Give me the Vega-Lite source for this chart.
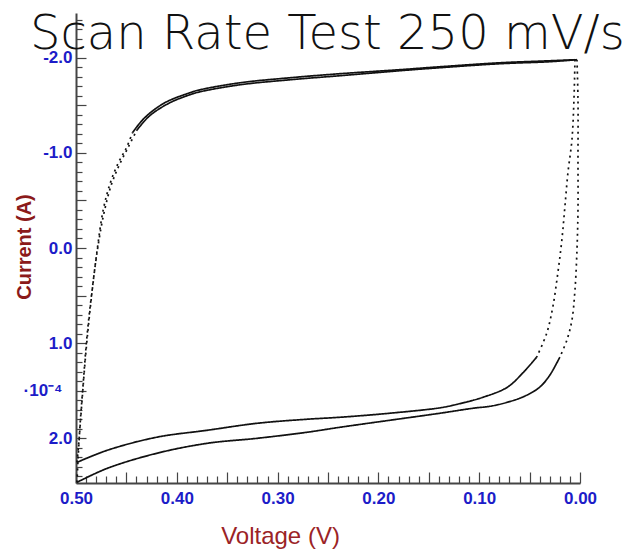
{
  "$schema": "https://vega.github.io/schema/vega-lite/v6.json",
  "width": 504,
  "height": 470,
  "autosize": {"type": "none"},
  "padding": {"left": 76, "top": 13, "right": 47, "bottom": 67},
  "background": "white",
  "title": {
    "text": "Scan Rate Test 250 mV/s",
    "font": "DejaVu Sans",
    "fontWeight": 200,
    "fontSize": 48,
    "color": "#111111",
    "anchor": "start",
    "frame": "group",
    "baseline": "alphabetic",
    "offset": 0,
    "dx": -46,
    "dy": 86
  },
  "config": {"view": {"stroke": null}},
  "data": {
    "values": [
      {"path": "U_ls", "style": "dotted", "i": 0, "voltage": 0.499, "current": 2.253},
      {"path": "U_ls", "style": "dotted", "i": 1, "voltage": 0.497, "current": 2.021},
      {"path": "U_ls", "style": "dotted", "i": 2, "voltage": 0.494, "current": 1.6},
      {"path": "U_ls", "style": "dotted", "i": 3, "voltage": 0.49, "current": 1.074},
      {"path": "U_ls", "style": "dotted", "i": 4, "voltage": 0.485, "current": 0.547},
      {"path": "U_ls", "style": "dotted", "i": 5, "voltage": 0.479, "current": 0.021},
      {"path": "U_ls", "style": "dotted", "i": 6, "voltage": 0.473, "current": -0.4},
      {"path": "U_ls", "style": "dotted", "i": 7, "voltage": 0.466, "current": -0.684},
      {"path": "U_ls", "style": "dotted", "i": 8, "voltage": 0.458, "current": -0.895},
      {"path": "U_ls", "style": "dotted", "i": 9, "voltage": 0.45, "current": -1.053},
      {"path": "U_ls", "style": "dotted", "i": 10, "voltage": 0.444, "current": -1.211},

      {"path": "U_top", "style": "solid", "i": 0, "voltage": 0.444, "current": -1.211},
      {"path": "U_top", "style": "solid", "i": 1, "voltage": 0.432, "current": -1.368},
      {"path": "U_top", "style": "solid", "i": 2, "voltage": 0.412, "current": -1.526},
      {"path": "U_top", "style": "solid", "i": 3, "voltage": 0.387, "current": -1.632},
      {"path": "U_top", "style": "solid", "i": 4, "voltage": 0.377, "current": -1.663},
      {"path": "U_top", "style": "solid", "i": 5, "voltage": 0.337, "current": -1.737},
      {"path": "U_top", "style": "solid", "i": 6, "voltage": 0.288, "current": -1.789},
      {"path": "U_top", "style": "solid", "i": 7, "voltage": 0.238, "current": -1.832},
      {"path": "U_top", "style": "solid", "i": 8, "voltage": 0.179, "current": -1.874},
      {"path": "U_top", "style": "solid", "i": 9, "voltage": 0.139, "current": -1.905},
      {"path": "U_top", "style": "solid", "i": 10, "voltage": 0.079, "current": -1.947},
      {"path": "U_top", "style": "solid", "i": 11, "voltage": 0.03, "current": -1.968},
      {"path": "U_top", "style": "solid", "i": 12, "voltage": 0.005, "current": -1.979},

      {"path": "U_rs", "style": "dotted", "i": 0, "voltage": 0.005, "current": -1.979},
      {"path": "U_rs", "style": "dotted", "i": 1, "voltage": 0.006, "current": -1.558},
      {"path": "U_rs", "style": "dotted", "i": 2, "voltage": 0.008, "current": -1.137},
      {"path": "U_rs", "style": "dotted", "i": 3, "voltage": 0.012, "current": -0.789},
      {"path": "U_rs", "style": "dotted", "i": 4, "voltage": 0.015, "current": -0.432},
      {"path": "U_rs", "style": "dotted", "i": 5, "voltage": 0.018, "current": -0.084},
      {"path": "U_rs", "style": "dotted", "i": 6, "voltage": 0.022, "current": 0.263},
      {"path": "U_rs", "style": "dotted", "i": 7, "voltage": 0.027, "current": 0.621},
      {"path": "U_rs", "style": "dotted", "i": 8, "voltage": 0.033, "current": 0.895},
      {"path": "U_rs", "style": "dotted", "i": 9, "voltage": 0.043, "current": 1.147},

      {"path": "U_bot", "style": "solid", "i": 0, "voltage": 0.043, "current": 1.147},
      {"path": "U_bot", "style": "solid", "i": 1, "voltage": 0.057, "current": 1.316},
      {"path": "U_bot", "style": "solid", "i": 2, "voltage": 0.072, "current": 1.463},
      {"path": "U_bot", "style": "solid", "i": 3, "voltage": 0.096, "current": 1.568},
      {"path": "U_bot", "style": "solid", "i": 4, "voltage": 0.122, "current": 1.643},
      {"path": "U_bot", "style": "solid", "i": 5, "voltage": 0.139, "current": 1.68},
      {"path": "U_bot", "style": "solid", "i": 6, "voltage": 0.189, "current": 1.737},
      {"path": "U_bot", "style": "solid", "i": 7, "voltage": 0.238, "current": 1.779},
      {"path": "U_bot", "style": "solid", "i": 8, "voltage": 0.271, "current": 1.8},
      {"path": "U_bot", "style": "solid", "i": 9, "voltage": 0.32, "current": 1.842},
      {"path": "U_bot", "style": "solid", "i": 10, "voltage": 0.37, "current": 1.916},
      {"path": "U_bot", "style": "solid", "i": 11, "voltage": 0.42, "current": 1.989},
      {"path": "U_bot", "style": "solid", "i": 12, "voltage": 0.469, "current": 2.126},
      {"path": "U_bot", "style": "solid", "i": 13, "voltage": 0.499, "current": 2.253},

      {"path": "L_ls", "style": "dotted", "i": 0, "voltage": 0.499, "current": 2.463},
      {"path": "L_ls", "style": "dotted", "i": 1, "voltage": 0.498, "current": 2.232},
      {"path": "L_ls", "style": "dotted", "i": 2, "voltage": 0.496, "current": 1.863},
      {"path": "L_ls", "style": "dotted", "i": 3, "voltage": 0.493, "current": 1.442},
      {"path": "L_ls", "style": "dotted", "i": 4, "voltage": 0.489, "current": 0.916},
      {"path": "L_ls", "style": "dotted", "i": 5, "voltage": 0.484, "current": 0.442},
      {"path": "L_ls", "style": "dotted", "i": 6, "voltage": 0.478, "current": -0.032},
      {"path": "L_ls", "style": "dotted", "i": 7, "voltage": 0.472, "current": -0.379},
      {"path": "L_ls", "style": "dotted", "i": 8, "voltage": 0.465, "current": -0.663},
      {"path": "L_ls", "style": "dotted", "i": 9, "voltage": 0.457, "current": -0.874},
      {"path": "L_ls", "style": "dotted", "i": 10, "voltage": 0.448, "current": -1.063},
      {"path": "L_ls", "style": "dotted", "i": 11, "voltage": 0.44, "current": -1.232},

      {"path": "L_top", "style": "solid", "i": 0, "voltage": 0.44, "current": -1.232},
      {"path": "L_top", "style": "solid", "i": 1, "voltage": 0.427, "current": -1.389},
      {"path": "L_top", "style": "solid", "i": 2, "voltage": 0.407, "current": -1.526},
      {"path": "L_top", "style": "solid", "i": 3, "voltage": 0.387, "current": -1.611},
      {"path": "L_top", "style": "solid", "i": 4, "voltage": 0.377, "current": -1.642},
      {"path": "L_top", "style": "solid", "i": 5, "voltage": 0.337, "current": -1.716},
      {"path": "L_top", "style": "solid", "i": 6, "voltage": 0.288, "current": -1.768},
      {"path": "L_top", "style": "solid", "i": 7, "voltage": 0.238, "current": -1.811},
      {"path": "L_top", "style": "solid", "i": 8, "voltage": 0.179, "current": -1.863},
      {"path": "L_top", "style": "solid", "i": 9, "voltage": 0.139, "current": -1.895},
      {"path": "L_top", "style": "solid", "i": 10, "voltage": 0.079, "current": -1.937},
      {"path": "L_top", "style": "solid", "i": 11, "voltage": 0.03, "current": -1.958},
      {"path": "L_top", "style": "solid", "i": 12, "voltage": 0.003, "current": -1.979},

      {"path": "L_rs", "style": "dotted", "i": 0, "voltage": 0.003, "current": -1.979},
      {"path": "L_rs", "style": "dotted", "i": 1, "voltage": 0.002, "current": -1.558},
      {"path": "L_rs", "style": "dotted", "i": 2, "voltage": 0.002, "current": -0.926},
      {"path": "L_rs", "style": "dotted", "i": 3, "voltage": 0.002, "current": -0.4},
      {"path": "L_rs", "style": "dotted", "i": 4, "voltage": 0.003, "current": 0.021},
      {"path": "L_rs", "style": "dotted", "i": 5, "voltage": 0.005, "current": 0.442},
      {"path": "L_rs", "style": "dotted", "i": 6, "voltage": 0.008, "current": 0.758},
      {"path": "L_rs", "style": "dotted", "i": 7, "voltage": 0.013, "current": 0.968},
      {"path": "L_rs", "style": "dotted", "i": 8, "voltage": 0.02, "current": 1.147},

      {"path": "L_bot", "style": "solid", "i": 0, "voltage": 0.02, "current": 1.147},
      {"path": "L_bot", "style": "solid", "i": 1, "voltage": 0.03, "current": 1.337},
      {"path": "L_bot", "style": "solid", "i": 2, "voltage": 0.04, "current": 1.463},
      {"path": "L_bot", "style": "solid", "i": 3, "voltage": 0.055, "current": 1.558},
      {"path": "L_bot", "style": "solid", "i": 4, "voltage": 0.072, "current": 1.621},
      {"path": "L_bot", "style": "solid", "i": 5, "voltage": 0.089, "current": 1.663},
      {"path": "L_bot", "style": "solid", "i": 6, "voltage": 0.106, "current": 1.684},
      {"path": "L_bot", "style": "solid", "i": 7, "voltage": 0.139, "current": 1.737},
      {"path": "L_bot", "style": "solid", "i": 8, "voltage": 0.189, "current": 1.811},
      {"path": "L_bot", "style": "solid", "i": 9, "voltage": 0.238, "current": 1.884},
      {"path": "L_bot", "style": "solid", "i": 10, "voltage": 0.271, "current": 1.937},
      {"path": "L_bot", "style": "solid", "i": 11, "voltage": 0.32, "current": 2.0},
      {"path": "L_bot", "style": "solid", "i": 12, "voltage": 0.37, "current": 2.053},
      {"path": "L_bot", "style": "solid", "i": 13, "voltage": 0.42, "current": 2.158},
      {"path": "L_bot", "style": "solid", "i": 14, "voltage": 0.469, "current": 2.316},
      {"path": "L_bot", "style": "solid", "i": 15, "voltage": 0.499, "current": 2.463}
    ]
  },
  "mark": {"type": "line", "interpolate": "catmull-rom", "strokeWidth": 1.7, "color": "#111111"},
  "encoding": {
    "x": {
      "field": "voltage",
      "type": "quantitative",
      "scale": {"domain": [0, 0.5], "reverse": true, "nice": false, "zero": false},
      "axis": {
        "title": "Voltage (V)",
        "titleColor": "#9b2326",
        "titleFont": "Liberation Sans",
        "titleFontWeight": "normal",
        "titleFontSize": 24,
        "titleX": 204,
        "titleY": 53.5,
        "titleAlign": "center",
        "titleBaseline": "middle",
        "values": [0, 0.01, 0.02, 0.03, 0.04, 0.05, 0.06, 0.07, 0.08, 0.09, 0.1, 0.11, 0.12, 0.13, 0.14, 0.15, 0.16, 0.17, 0.18, 0.19, 0.2, 0.21, 0.22, 0.23, 0.24, 0.25, 0.26, 0.27, 0.28, 0.29, 0.3, 0.31, 0.32, 0.33, 0.34, 0.35, 0.36, 0.37, 0.38, 0.39, 0.4, 0.41, 0.42, 0.43, 0.44, 0.45, 0.46, 0.47, 0.48, 0.49, 0.5],
        "labelExpr": "abs(datum.value * 10 - round(datum.value * 10)) < 0.001 ? format(datum.value, '.2f') : ''",
        "labelFont": "Liberation Sans",
        "labelFontWeight": "bold",
        "labelFontSize": 17,
        "labelColor": "#1c1cc8",
        "labelPadding": 18,
        "labelFlush": false,
        "labelOverlap": false,
        "tickSize": {"condition": {"test": "abs(datum.value * 20 - round(datum.value * 20)) < 0.001", "value": -11}, "value": -7},
        "tickColor": "#444444",
        "tickWidth": 1.2,
        "domainColor": "#444444",
        "domainWidth": 2,
        "grid": false
      }
    },
    "y": {
      "field": "current",
      "type": "quantitative",
      "scale": {"domain": [-2.47, 2.47], "reverse": true, "nice": false, "zero": false},
      "axis": {
        "title": "Current (A)",
        "titleColor": "#8b1a1a",
        "titleFont": "Liberation Sans",
        "titleFontWeight": "bold",
        "titleFontSize": 20,
        "titleX": -52,
        "titleY": 233.5,
        "titleAngle": -90,
        "titleAlign": "center",
        "titleBaseline": "middle",
        "values": [-2.4, -2.3, -2.2, -2.1, -2.0, -1.9, -1.8, -1.7, -1.6, -1.5, -1.4, -1.3, -1.2, -1.1, -1.0, -0.9, -0.8, -0.7, -0.6, -0.5, -0.4, -0.3, -0.2, -0.1, 0, 0.1, 0.2, 0.3, 0.4, 0.5, 0.6, 0.7, 0.8, 0.9, 1.0, 1.1, 1.2, 1.3, 1.4, 1.5, 1.6, 1.7, 1.8, 1.9, 2.0, 2.1, 2.2, 2.3, 2.4],
        "labelExpr": "datum.value == 1.5 ? '·10⁻⁴' : (abs(datum.value - round(datum.value)) < 0.001 && abs(datum.value) < 2.2 ? (datum.value < 0 ? '-' + format(-datum.value, '.1f') : format(datum.value, '.1f')) : '')",
        "labelFont": "Liberation Sans",
        "labelFontWeight": "bold",
        "labelFontSize": 17,
        "labelColor": "#1c1cc8",
        "labelPadding": {"condition": {"test": "datum.value == 1.5", "value": 24}, "value": 14},
        "labelFlush": false,
        "labelOverlap": false,
        "tickSize": {"condition": {"test": "abs(datum.value * 2 - round(datum.value * 2)) < 0.001", "value": -10}, "value": -6},
        "tickColor": "#444444",
        "tickWidth": 1.2,
        "domainColor": "#444444",
        "domainWidth": 2,
        "grid": false
      }
    },
    "detail": {"field": "path"},
    "order": {"field": "i", "type": "quantitative"},
    "strokeDash": {
      "field": "style",
      "type": "nominal",
      "scale": {"domain": ["solid", "dotted"], "range": [[1, 0], [2, 4]]},
      "legend": null
    }
  }
}
